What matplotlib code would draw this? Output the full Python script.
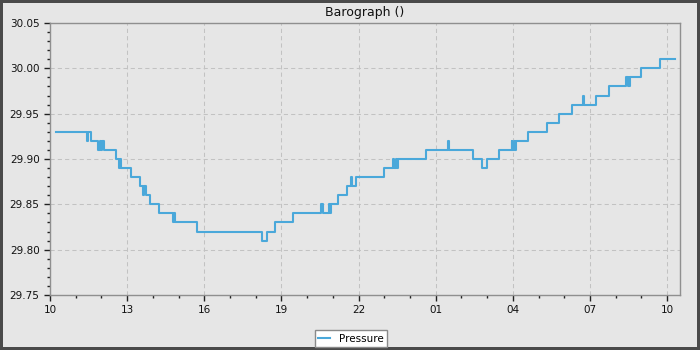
import matplotlib
matplotlib.use("Agg")
import matplotlib.pyplot as plt
import matplotlib.dates as mdates
from matplotlib.ticker import MultipleLocator, FormatStrFormatter
from datetime import datetime

# ---- data ----
times = [
    "2024-06-01 10:14", "2024-06-01 11:26", "2024-06-01 11:29", "2024-06-01 11:35",
    "2024-06-01 11:53", "2024-06-01 11:56", "2024-06-01 11:59", "2024-06-01 12:02",
    "2024-06-01 12:05", "2024-06-01 12:35", "2024-06-01 12:41", "2024-06-01 12:43",
    "2024-06-01 12:46", "2024-06-01 13:08", "2024-06-01 13:30", "2024-06-01 13:38",
    "2024-06-01 13:40", "2024-06-01 13:43", "2024-06-01 13:53", "2024-06-01 14:15",
    "2024-06-01 14:48", "2024-06-01 14:50", "2024-06-01 14:52", "2024-06-01 15:44",
    "2024-06-01 18:14", "2024-06-01 18:26", "2024-06-01 18:45", "2024-06-01 19:26",
    "2024-06-01 20:33", "2024-06-01 20:36", "2024-06-01 20:52", "2024-06-01 20:53",
    "2024-06-01 20:55", "2024-06-01 21:11", "2024-06-01 21:32", "2024-06-01 21:42",
    "2024-06-01 21:44", "2024-06-01 21:54", "2024-06-01 23:00", "2024-06-01 23:20",
    "2024-06-01 23:22", "2024-06-01 23:27", "2024-06-01 23:29", "2024-06-01 23:33",
    "2024-06-02 00:38", "2024-06-02 01:28", "2024-06-02 01:30", "2024-06-02 02:28",
    "2024-06-02 02:49", "2024-06-02 03:00", "2024-06-02 03:27", "2024-06-02 03:57",
    "2024-06-02 03:59", "2024-06-02 04:02", "2024-06-02 04:04", "2024-06-02 04:07",
    "2024-06-02 04:36", "2024-06-02 05:20", "2024-06-02 05:48", "2024-06-02 06:19",
    "2024-06-02 06:43", "2024-06-02 06:45", "2024-06-02 07:14", "2024-06-02 07:44",
    "2024-06-02 08:25", "2024-06-02 08:28", "2024-06-02 08:30", "2024-06-02 08:31",
    "2024-06-02 08:34", "2024-06-02 08:59", "2024-06-02 09:44", "2024-06-02 10:19",
]
pressure = [
    29.93, 29.92, 29.93, 29.92,
    29.91, 29.92, 29.91, 29.92,
    29.91, 29.90, 29.89, 29.90,
    29.89, 29.88, 29.87, 29.86,
    29.87, 29.86, 29.85, 29.84,
    29.83, 29.84, 29.83, 29.82,
    29.81, 29.82, 29.83, 29.84,
    29.85, 29.84, 29.85, 29.84,
    29.85, 29.86, 29.87, 29.88,
    29.87, 29.88, 29.89, 29.90,
    29.89, 29.90, 29.89, 29.90,
    29.91, 29.92, 29.91, 29.90,
    29.89, 29.90, 29.91, 29.92,
    29.91, 29.92, 29.91, 29.92,
    29.93, 29.94, 29.95, 29.96,
    29.97, 29.96, 29.97, 29.98,
    29.99, 29.98, 29.99, 29.98,
    29.99, 30.00, 30.01, 30.01,
]
series_name = "Pressure"
title = "Barograph ()"
x_start = "2024-06-01 10:00"
x_end = "2024-06-02 10:30"
y_min, y_max = 29.75, 30.05

# ---- plot ----
t = [datetime.strptime(s, "%Y-%m-%d %H:%M") for s in times]
bg = "#e6e6e6"
fig = plt.figure(figsize=(7, 3.5), dpi=100, facecolor=bg,
                 edgecolor="#4a4a4a", linewidth=4)
ax = fig.add_axes([50/700, 55/350, 630/700, 272/350])
ax.set_facecolor(bg)

ax.plot(t, pressure, drawstyle="steps-post", color="#4aa8da", lw=1.5,
        label=series_name)

ax.set_xlim(datetime.strptime(x_start, "%Y-%m-%d %H:%M"),
            datetime.strptime(x_end, "%Y-%m-%d %H:%M"))
ax.set_ylim(y_min, y_max)

ax.xaxis.set_major_locator(mdates.HourLocator(byhour=range(1, 24, 3)))
ax.xaxis.set_minor_locator(mdates.HourLocator())
ax.xaxis.set_major_formatter(mdates.DateFormatter("%H"))
ax.yaxis.set_major_locator(MultipleLocator(0.05))
ax.yaxis.set_minor_locator(MultipleLocator(0.01))
ax.yaxis.set_major_formatter(FormatStrFormatter("%.2f"))

for sp in ax.spines.values():
    sp.set_color("#8f8f8f")
    sp.set_linewidth(1.0)

ax.tick_params(axis="both", which="major", length=4.5, width=1.0,
               color="#222222", labelsize=7.5, labelcolor="#111111", pad=3)
ax.tick_params(axis="both", which="minor", length=2.5, width=1.0,
               color="#222222")

ax.grid(True, which="major", color="#c2c2c2", lw=0.75, linestyle=(0, (4, 3)))
ax.set_axisbelow(True)

ax.set_title(title, fontsize=9, color="#111111", pad=5)

leg = fig.legend(loc="center", bbox_to_anchor=(351/700, 1 - 338.5/350),
                 fontsize=7.5, frameon=True, fancybox=False, framealpha=1,
                 facecolor="white", edgecolor="#8a8a8a", handlelength=1.1,
                 handletextpad=0.9, borderpad=0.35)
leg.get_frame().set_linewidth(1.0)

fig.savefig("out.png", dpi=100, facecolor=bg, edgecolor="#4a4a4a")
